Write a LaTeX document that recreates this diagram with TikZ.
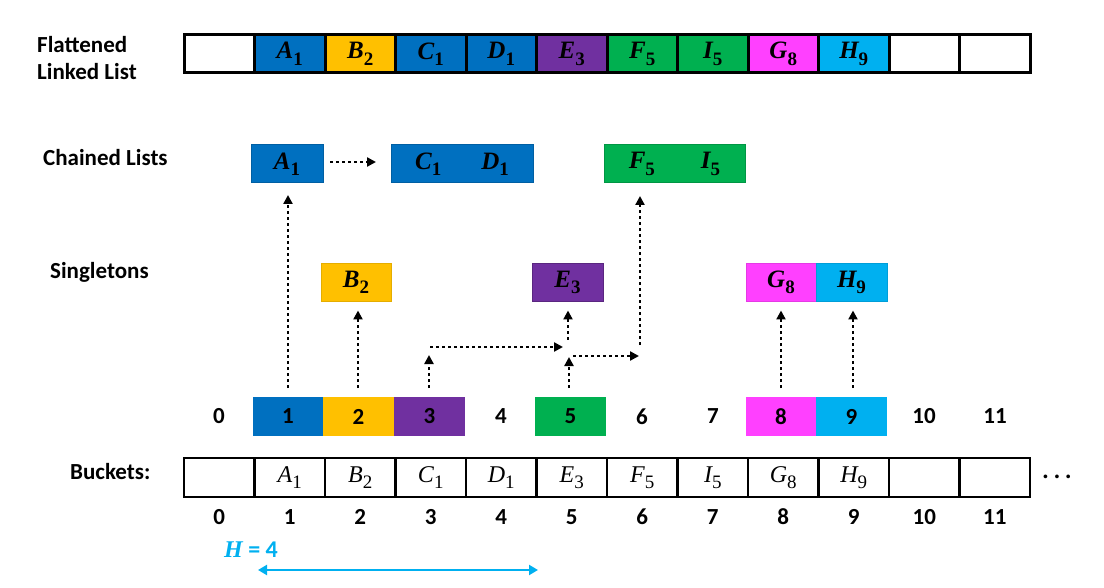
\documentclass[tikz,border=0pt]{standalone}
\usepackage{fontspec}
\setmainfont{Carlito}
\newfontfamily\lserif{Liberation Serif}
\newcommand{\elem}[2]{{\itshape #1}\raisebox{-6.5pt}{\upshape\fontsize{19}{20}\selectfont #2}}
\usetikzlibrary{arrows.meta}
\definecolor{cblue}{HTML}{0070C0}
\definecolor{cyellow}{HTML}{FFC000}
\definecolor{cpurple}{HTML}{7030A0}
\definecolor{cgreen}{HTML}{00B050}
\definecolor{cmagenta}{HTML}{FF40FF}
\definecolor{ccyan}{HTML}{00B0F0}
\begin{document}
\begin{tikzpicture}[x=1pt,y=-1pt,
  mathlab/.style={font=\lserif\fontsize{25}{27}\selectfont\bfseries},
  topcell/.style={draw=black,line width=3pt,minimum width=70.5pt,minimum height=38pt,inner sep=0pt,outer sep=0pt,mathlab},
  bucketcell/.style={draw=black,line width=2.5pt,minimum width=70.5pt,minimum height=39pt,inner sep=0pt,outer sep=0pt,font=\lserif\fontsize{24}{26}\selectfont},
  idxbox/.style={minimum width=70.5pt,minimum height=39pt,inner sep=0pt,outer sep=0pt,font=\fontsize{23}{25}\selectfont\bfseries},
  idxnum/.style={inner sep=0pt,font=\fontsize{23}{25}\selectfont\bfseries},
  elembox/.style={minimum height=38pt,inner sep=0pt,outer sep=0pt,line width=1pt,mathlab},
  rowlabel/.style={inner sep=0pt,anchor=west,align=left,font=\fontsize{23}{27}\selectfont\bfseries},
  hlabel/.style={inner sep=0pt,text=ccyan,font=\fontsize{24}{26}\selectfont\bfseries},
  dotarrow/.style={line width=2.6pt,dash pattern=on 2.6pt off 3.4pt,-{Triangle[length=9pt,width=9pt]}},
  harrow/.style={ccyan,line width=2.5pt,{Triangle[length=9pt,width=10pt]}-{Triangle[length=9pt,width=10pt]}}
]
\useasboundingbox (0,0) rectangle (1104,588);

% row labels
\node[rowlabel] (lflat) at (37,58) {Flattened\\Linked List};
\node[rowlabel] (lchain) at (43,158) {Chained Lists};
\node[rowlabel] (lsing) at (50,272) {Singletons};
\node[rowlabel] (lbuck) at (70,472) {Buckets:};

% flattened linked list
\foreach \i/\c/\lab in {0/white/{},1/cblue/{\elem{A}{1}},2/cyellow/{\elem{B}{2}},3/cblue/{\elem{C}{1}},4/cblue/{\elem{D}{1}},5/cpurple/{\elem{E}{3}},6/cgreen/{\elem{F}{5}},7/cgreen/{\elem{I}{5}},8/cmagenta/{\elem{G}{8}},9/ccyan/{\elem{H}{9}},10/white/{},11/white/{}}
  \node[topcell,fill=\c] (t\i) at ({219.25+70.5*\i},54) {\lab};

% chained lists
\node[elembox,fill=cblue,draw=cblue!85!black,minimum width=72pt] (ca) at (287,164) {\elem{A}{1}};
\node[elembox,fill=cblue,draw=cblue!85!black,minimum width=142pt] (ccd) at (462,164) {\elem{C}{1}\hspace{40pt}\elem{D}{1}};
\node[elembox,fill=cgreen,draw=cgreen!85!black,minimum width=141pt] (cfi) at (674.5,164) {\elem{F}{5}\hspace{46pt}\elem{I}{5}};

% singletons
\node[elembox,fill=cyellow,draw=cyellow!90!black,minimum width=70pt] (sb) at (356,282.5) {\elem{B}{2}};
\node[elembox,fill=cpurple,draw=cpurple!80!black,minimum width=71pt] (se) at (567.5,282.5) {\elem{E}{3}};
\node[elembox,fill=cmagenta,draw=cmagenta!90!black,minimum width=70pt] (sg) at (781,282.5) {\elem{G}{8}};
\node[elembox,fill=ccyan,draw=ccyan!90!black,minimum width=71pt] (sh) at (851.5,282.5) {\elem{H}{9}};

% index row
\node[idxnum] (n0) at (219,416.5) {0};
\node[idxbox,fill=cblue] (i1) at (288,416.5) {1};
\node[idxbox,fill=cyellow] (i2) at (358.5,416.5) {2};
\node[idxbox,fill=cpurple] (i3) at (429.5,416.5) {3};
\node[idxnum] (n4) at (501,416.5) {4};
\node[idxbox,fill=cgreen] (i5) at (570.5,416.5) {5};
\node[idxnum] (n6) at (642,416.5) {6};
\node[idxnum] (n7) at (713,416.5) {7};
\node[idxbox,fill=cmagenta] (i8) at (781,416.5) {8};
\node[idxbox,fill=ccyan] (i9) at (851.5,416.5) {9};
\node[idxnum] (n10) at (924,416.5) {10};
\node[idxnum] (n11) at (995,416.5) {11};

% buckets
\foreach \i/\lab in {0/{},1/{\elem{A}{1}},2/{\elem{B}{2}},3/{\elem{C}{1}},4/{\elem{D}{1}},5/{\elem{E}{3}},6/{\elem{F}{5}},7/{\elem{I}{5}},8/{\elem{G}{8}},9/{\elem{H}{9}},10/{},11/{}}
  \node[bucketcell] (b\i) at ({219.25+70.5*\i},477.5) {\lab};
\foreach \i in {0,...,11}
  \node[idxnum] (bn\i) at ({219.25+70.5*\i},517) {\i};
\node[inner sep=0pt,font=\fontsize{20}{22}\selectfont\bfseries] (dots) at (1057,479) {·\hspace{6pt}·\hspace{6pt}·};

% arrows
\coordinate (cas) at ([xshift=7pt,yshift=2pt]ca.east);
\draw[dotarrow,shorten >=15pt] (cas) -- (cas -| ccd.west);
\coordinate (a1s) at (288,388);
\draw[dotarrow,shorten >=12pt] (a1s) -- (a1s |- ca.south);
\coordinate (a2s) at (358,388);
\draw[dotarrow,shorten >=9pt] (a2s) -- (a2s |- sb.south);
\coordinate (a8s) at (781,388);
\draw[dotarrow,shorten >=9pt] (a8s) -- (a8s |- sg.south);
\coordinate (a9s) at (853,388);
\draw[dotarrow,shorten >=9pt] (a9s) -- (a9s |- sh.south);
% from bucket 3 to E3
\coordinate (p3a) at (429,388);
\coordinate (p3b) at (429,355);
\coordinate (p3c) at (430,347);
\coordinate (p3d) at (563,347);
\coordinate (p3e) at (568,340);
\draw[dotarrow] (p3a) -- (p3b);
\draw[dotarrow] (p3c) -- (p3d);
\draw[dotarrow,shorten >=9pt] (p3e) -- (p3e |- se.south);
% from bucket 5 to F5
\coordinate (p5a) at (569,388);
\coordinate (p5b) at (569,357);
\coordinate (p5c) at (573,356);
\coordinate (p5d) at (639,356);
\coordinate (p5e) at (640,345);
\draw[dotarrow] (p5a) -- (p5b);
\draw[dotarrow] (p5c) -- (p5d);
\draw[dotarrow,shorten >=13pt] (p5e) -- (p5e |- cfi.south);

% H = 4
\node[hlabel] (hlab) at (251,550) {{\lserif\itshape H} = 4};
\coordinate (hl) at (258,570);
\coordinate (hr) at (538,570);
\draw[harrow] (hl) -- (hr);
\end{tikzpicture}
\end{document}
